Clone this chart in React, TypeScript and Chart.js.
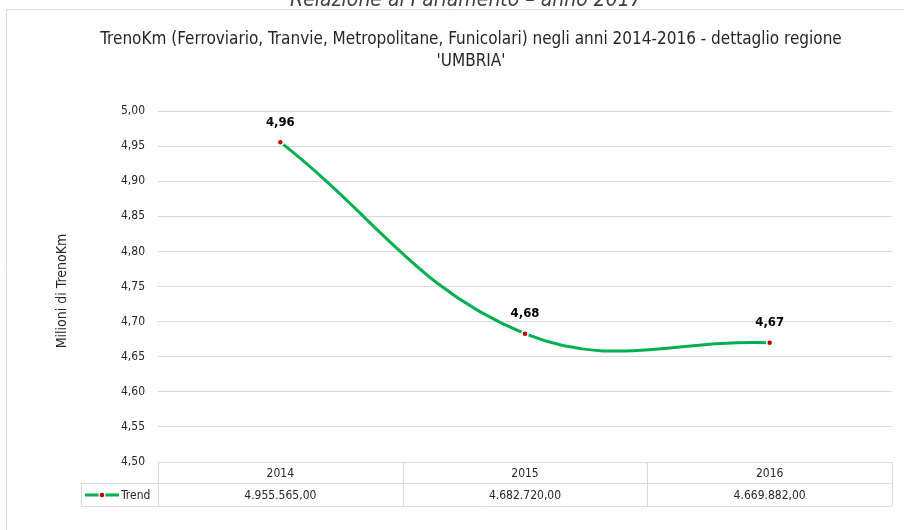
import React, { useEffect, useRef } from "react";
import { Chart, registerables } from "chart.js";

Chart.register(...registerables);

const categories: string[] = ["2014", "2015", "2016"];
const seriesName = "Trend";
const trendValues: number[] = [4.955565, 4.68272, 4.669882];
const tableValues: string[] = ["4.955.565,00", "4.682.720,00", "4.669.882,00"];
const dataLabels: string[] = ["4,96", "4,68", "4,67"];
const titleLines: string[] = [
  "TrenoKm (Ferroviario, Tranvie, Metropolitane, Funicolari) negli anni 2014-2016 - dettaglio regione",
  "'UMBRIA'",
];
const yAxisTitle = "Milioni di TrenoKm";
const pageHeader = "Relazione al Parlamento \u2013 anno 2017";
const yMin = 4.5;
const yMax = 5.0;
const yStep = 0.05;

const FONT = "'Liberation Sans Narrow', 'Arial Narrow', 'DejaVu Sans Condensed', 'Roboto', sans-serif";
const GREEN = "#00B050";
const RED = "#C00000";
const GRID = "#d9d9d9";
const TEXT = "#262626";

const overlayPlugin = {
  id: "overlay",
  afterDraw(chart: any) {
    const ctx: CanvasRenderingContext2D = chart.ctx;
    const area = chart.chartArea;
    const xs = chart.scales.x;
    const ys = chart.scales.y;
    ctx.save();

    // page header (cut off at top)
    ctx.fillStyle = "#404040";
    ctx.font = `italic 21px ${FONT}`;
    ctx.textAlign = "center";
    ctx.textBaseline = "alphabetic";
    ctx.fillText(pageHeader, 466, 6);

    // chart box border
    ctx.strokeStyle = GRID;
    ctx.lineWidth = 1;
    ctx.beginPath();
    ctx.moveTo(6.5, 530);
    ctx.lineTo(6.5, 9.5);
    ctx.lineTo(904, 9.5);
    ctx.stroke();

    // title
    ctx.fillStyle = TEXT;
    ctx.font = `17px ${FONT}`;
    ctx.textBaseline = "middle";
    ctx.fillText(titleLines[0], 471, 40);
    ctx.fillText(titleLines[1], 471, 62);

    // y axis title
    ctx.save();
    ctx.translate(62, 291);
    ctx.rotate(-Math.PI / 2);
    ctx.font = `14px ${FONT}`;
    ctx.fillText(yAxisTitle, 0, 0);
    ctx.restore();

    // data labels
    ctx.font = `bold 13px ${FONT}`;
    ctx.fillStyle = "#000";
    trendValues.forEach((v, i) => {
      const px = xs.getPixelForValue(i);
      const py = ys.getPixelForValue(v);
      ctx.fillText(dataLabels[i], px, py - 20);
    });

    // data table
    const top = area.bottom;
    const mid = top + 21;
    const bot = top + 44;
    const legLeft = 81;
    const colW = (area.right - area.left) / categories.length;
    ctx.strokeStyle = GRID;
    ctx.lineWidth = 1;
    ctx.beginPath();
    for (let i = 0; i <= categories.length; i++) {
      const x = Math.round(area.left + i * colW) + 0.5;
      ctx.moveTo(x, top);
      ctx.lineTo(x, bot);
    }
    ctx.moveTo(legLeft + 0.5, mid);
    ctx.lineTo(legLeft + 0.5, bot);
    ctx.moveTo(legLeft, mid + 0.5);
    ctx.lineTo(area.right, mid + 0.5);
    ctx.moveTo(legLeft, bot + 0.5);
    ctx.lineTo(area.right, bot + 0.5);
    ctx.stroke();

    ctx.fillStyle = TEXT;
    ctx.font = `12px ${FONT}`;
    categories.forEach((c, i) => {
      const cx = xs.getPixelForValue(i);
      ctx.fillText(c, cx, (top + mid) / 2 + 1);
      ctx.fillText(tableValues[i], cx, (mid + bot) / 2 + 1);
    });

    // legend key
    const ly = (mid + bot) / 2 + 0.5;
    ctx.strokeStyle = GREEN;
    ctx.lineWidth = 3;
    ctx.beginPath();
    ctx.moveTo(85, ly);
    ctx.lineTo(119, ly);
    ctx.stroke();
    ctx.fillStyle = "#fff";
    ctx.beginPath();
    ctx.arc(102, ly, 3.5, 0, Math.PI * 2);
    ctx.fill();
    ctx.fillStyle = RED;
    ctx.beginPath();
    ctx.arc(102, ly, 2.3, 0, Math.PI * 2);
    ctx.fill();
    ctx.fillStyle = TEXT;
    ctx.textAlign = "left";
    ctx.font = `12px ${FONT}`;
    ctx.fillText(seriesName, 121, (mid + bot) / 2 + 1);

    ctx.restore();
  },
};

export default function App() {
  const ref = useRef<HTMLCanvasElement | null>(null);
  useEffect(() => {
    if (!ref.current) return;
    const chart = new Chart(ref.current, {
      type: "line",
      data: {
        labels: categories,
        datasets: [
          {
            label: seriesName,
            data: trendValues,
            borderColor: GREEN,
            borderWidth: 3,
            tension: 0.4,
            pointRadius: 3,
            pointBackgroundColor: RED,
            pointBorderColor: "#fff",
            pointBorderWidth: 1.5,
            fill: false,
          },
        ],
      },
      options: {
        animation: false,
        responsive: false,
        devicePixelRatio: 1,
        layout: { padding: { left: 0, top: 111, right: 12, bottom: 68 } },
        plugins: {
          legend: { display: false },
          title: { display: false },
          tooltip: { enabled: false },
        },
        scales: {
          x: {
            type: "category",
            offset: true,
            display: false,
          },
          y: {
            min: yMin,
            max: yMax,
            border: { display: false },
            grid: { color: GRID, drawTicks: false, lineWidth: 1 },
            ticks: {
              stepSize: yStep,
              padding: 13,
              color: TEXT,
              font: { family: FONT, size: 12 },
              callback: (v: any) => Number(v).toFixed(2).replace(".", ","),
            },
            afterFit: (scale: any) => {
              scale.width = 158;
            },
          },
        },
      },
      plugins: [overlayPlugin],
    });
    return () => chart.destroy();
  }, []);
  return (
    <div style={{ position: "absolute", left: 0, top: 0, width: 904, height: 530, background: "#fff" }}>
      <canvas ref={ref} width={904} height={530} style={{ display: "block", width: 904, height: 530 }} />
    </div>
  );
}
